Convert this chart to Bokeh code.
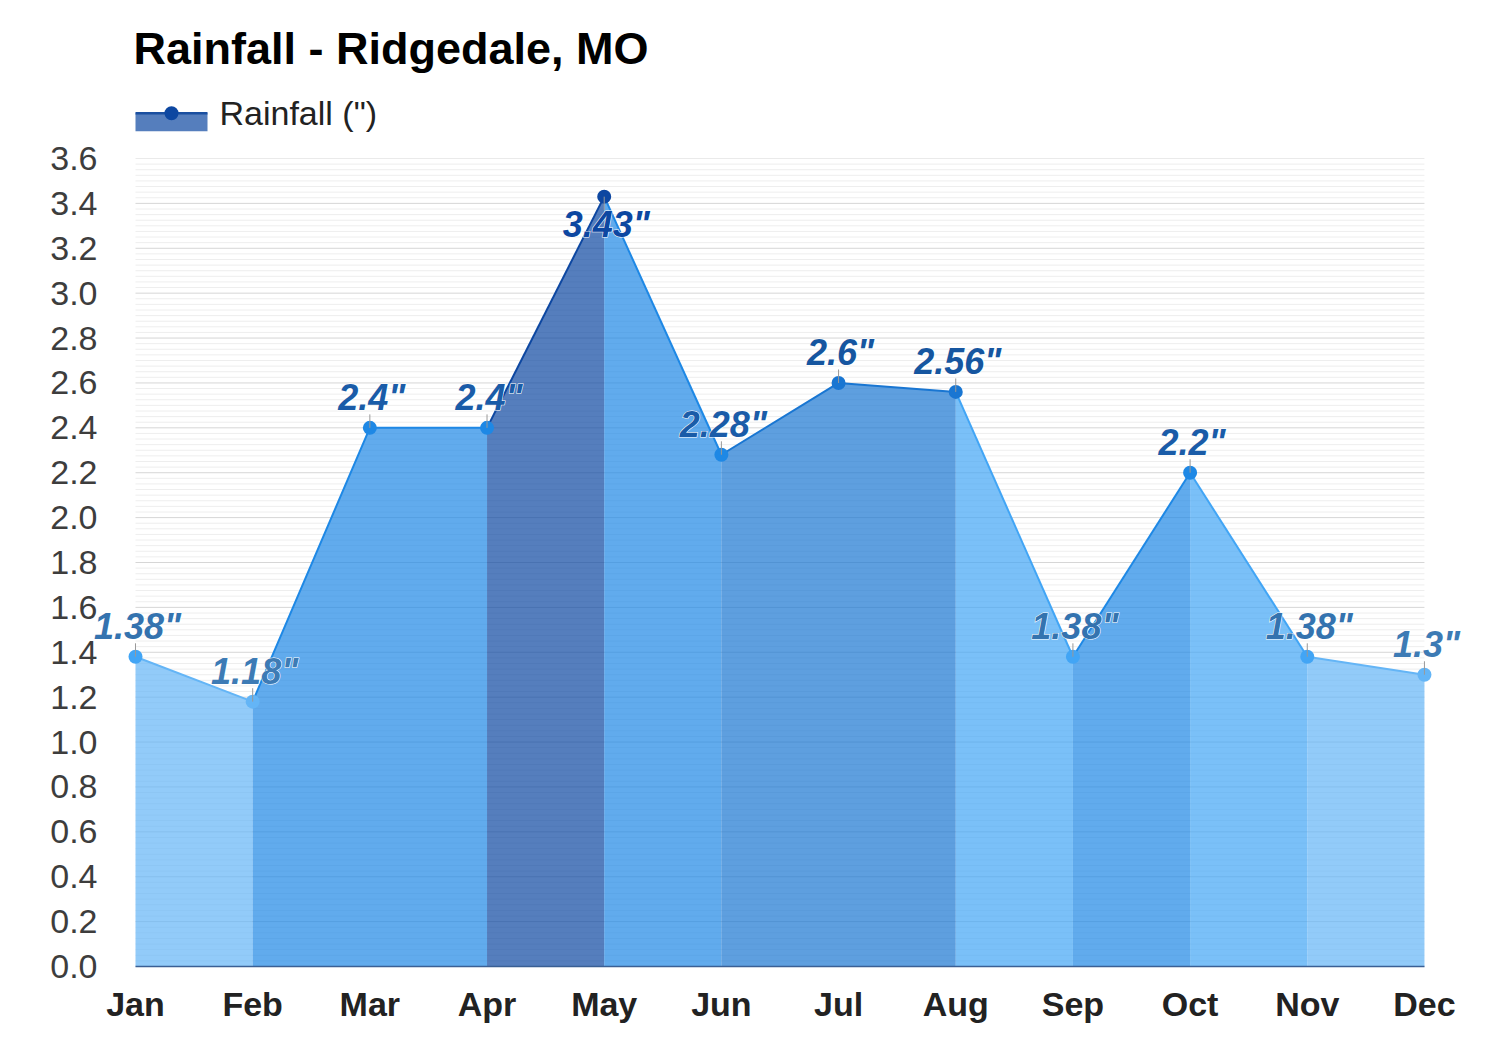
from bokeh.plotting import figure
from bokeh.models import (Range1d, ColumnDataSource, LabelSet,
                          SingleIntervalTicker, FixedTicker, PrintfTickFormatter)
from bokeh.layouts import column
from bokeh.embed import file_html
from bokeh.resources import INLINE
from bokeh.core.properties import value

# ---------------- data ----------------
months = ["Jan", "Feb", "Mar", "Apr", "May", "Jun",
          "Jul", "Aug", "Sep", "Oct", "Nov", "Dec"]
rainfall = [1.38, 1.18, 2.4, 2.4, 3.43, 2.28, 2.6, 2.56, 1.38, 2.2, 1.38, 1.3]
point_colors = ["#42a5f5", "#64b5f6", "#1e88e5", "#1e88e5", "#0d47a1", "#1e88e5",
                "#1976d2", "#1976d2", "#42a5f5", "#1e88e5", "#42a5f5", "#64b5f6"]
label_color_map = {"#64b5f6": "#3d7bb5", "#42a5f5": "#3473af", "#1e88e5": "#1a5ca8",
                   "#1976d2": "#1656a0", "#0d47a1": "#0d47a1"}
title_text = "Rainfall - Ridgedale, MO"
series_name = 'Rainfall (")'
y_min, y_max, y_step, n_minor = 0.0, 3.6, 0.2, 8

FONT = "Liberation Sans"
W = 1496
HEADER_H = 138
MAIN_H = 905
BORDER_L, BORDER_R = 90, 26


def hy(page_y):
    """convert a distance from the top of the header into header y units"""
    return HEADER_H - page_y


# ---------------- header (title + legend) ----------------
header = figure(width=W, height=HEADER_H,
                x_range=Range1d(BORDER_L, W - BORDER_R),
                y_range=Range1d(0, HEADER_H), toolbar_location=None,
                output_backend="svg", min_border_left=BORDER_L,
                min_border_right=BORDER_R, min_border_top=0, min_border_bottom=0)
header.axis.visible = False
header.grid.visible = False
header.outline_line_color = None
header.background_fill_color = "white"
header.border_fill_color = "white"

header.text(x=[133], y=[hy(48)], text=[title_text], text_font=value(FONT),
            text_font_style="bold", text_font_size="45px",
            text_color="#000000", text_baseline="alphabetic")
leg_fill = "#0d47a1"
header.quad(left=[135], right=[207], top=[hy(112.7)], bottom=[hy(130.7)],
            fill_color=leg_fill, fill_alpha=0.7, line_color=None)
header.line(x=[135, 207], y=[hy(112.7), hy(112.7)], line_color="#1a4fa0", line_width=2.5)
header.scatter(x=[171], y=[hy(112.7)], size=14, fill_color=leg_fill, line_color=None)
header.text(x=[219], y=[hy(112)], text=[series_name], text_font=value(FONT),
            text_font_size="34px", text_color="#222222",
            text_baseline="alphabetic")

# ---------------- main chart ----------------
xs = list(range(len(months)))
p = figure(width=W, height=MAIN_H, x_range=Range1d(-0.384, 11.393),
           y_range=Range1d(y_min, y_max), toolbar_location=None,
           output_backend="svg", min_border_left=BORDER_L, min_border_right=BORDER_R,
           min_border_top=20, min_border_bottom=77)
p.outline_line_color = None
p.background_fill_color = "white"
p.border_fill_color = "white"

# horizontal grid lines, limited to the Jan..Dec span
n_major = int(round((y_max - y_min) / y_step))
minor_y = [y_min + k * y_step / n_minor for k in range(n_major * n_minor + 1)
           if k % n_minor != 0]
major_y = [y_min + k * y_step for k in range(n_major + 1)]
p.segment(x0=[xs[0]] * len(minor_y), y0=minor_y, x1=[xs[-1]] * len(minor_y), y1=minor_y,
          line_color="#eeeeee", line_width=1)
p.segment(x0=[xs[0]] * len(major_y), y0=major_y, x1=[xs[-1]] * len(major_y), y1=major_y,
          line_color="#d6d6d6", line_width=1)

# area segments, coloured by the zone of the right-hand point (runs merged)
runs = []
for i in range(len(xs) - 1):
    c = point_colors[i + 1]
    if runs and runs[-1][0] == c and runs[-1][1][-1] == i:
        runs[-1][1].append(i + 1)
    else:
        runs.append((c, [i, i + 1]))
for c, idx in runs:
    p.varea(x=[xs[k] for k in idx], y1=[0] * len(idx), y2=[rainfall[k] for k in idx],
            fill_color=c, fill_alpha=0.7)
for c, idx in runs:
    p.line(x=[xs[k] for k in idx], y=[rainfall[k] for k in idx],
           line_color=c, line_width=2)

p.scatter(x=xs, y=rainfall, size=14, fill_color=point_colors, line_color=None)

# label placement: above the point unless it would leave the plot
label_h = 0.2
above = [v + label_h <= y_max for v in rainfall]
conn_y = [v + (0.06 if a else -0.06) for v, a in zip(rainfall, above)]
p.segment(x0=xs, y0=rainfall, x1=xs, y1=conn_y, line_color="#999999", line_width=1)

src = ColumnDataSource(dict(
    x=xs, y=rainfall,
    text=[f'{v:g}"' for v in rainfall],
    color=[label_color_map[c] for c in point_colors],
    yoff=[18 if a else -40 for a in above],
))
common = dict(x="x", y="y", text="text", source=src, y_offset="yoff", x_offset=2,
              text_align="center", text_baseline="alphabetic",
              text_font=value(FONT), text_font_style="bold italic",
              text_font_size="36px")
p.add_layout(LabelSet(text_color="white", text_outline_color="white", **common))
p.add_layout(LabelSet(text_color="color", **common))

# axes
p.xaxis.ticker = FixedTicker(ticks=xs)
p.xaxis.bounds = (xs[0], xs[-1])
p.xaxis.major_label_overrides = {i: m for i, m in enumerate(months)}
p.xaxis.major_label_text_font = FONT
p.xaxis.major_label_text_font_style = "bold"
p.xaxis.major_label_text_font_size = "34px"
p.xaxis.major_label_text_color = "#222222"
p.xaxis.major_tick_line_color = None
p.xaxis.minor_tick_line_color = None
p.xaxis.axis_line_color = "#3a5f94"
p.xaxis.axis_line_width = 1.5
p.xaxis.major_label_standoff = 12

p.yaxis.ticker = SingleIntervalTicker(interval=y_step, num_minor_ticks=n_minor)
p.yaxis.formatter = PrintfTickFormatter(format="%.1f")
p.yaxis.major_label_text_font = FONT
p.yaxis.major_label_text_font_size = "34px"
p.yaxis.major_label_text_color = "#3d3d3d"
p.yaxis.major_tick_line_color = None
p.yaxis.minor_tick_line_color = None
p.yaxis.axis_line_color = None
p.yaxis.major_tick_out = 0
p.yaxis.major_tick_in = 0
p.yaxis.major_label_standoff = -11

p.grid.visible = False

layout = column(header, p, spacing=0)
open("out.html", "w").write(file_html(layout, INLINE))
